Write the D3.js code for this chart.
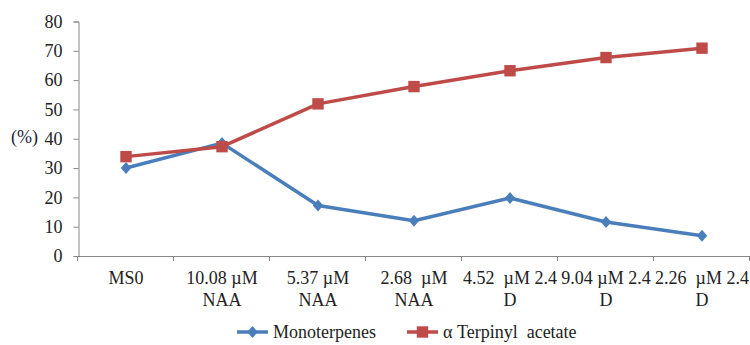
<!DOCTYPE html>
<html>
<head>
<meta charset="utf-8">
<script src="https://cdn.jsdelivr.net/npm/d3@7"></script>
<style>
  html, body { margin: 0; padding: 0; background: #fff; }
  svg { display: block; }
  svg text { font-family: "Liberation Serif", "Times New Roman", Tinos, "DejaVu Serif", serif; }
</style>
</head>
<body>
<svg id="chart" width="750" height="345"></svg>
<script>
// Treatments (two-line category labels)
const categories = [
  ["MS0", ""],
  ["10.08 µM", "NAA"],
  ["5.37 µM", "NAA"],
  ["2.68  µM", "NAA"],
  ["4.52  µM 2.4", "D"],
  ["9.04 µM 2.4", "D"],
  ["2.26  µM 2.4", "D"]
];
const monoterpenes = [30.0, 38.5, 17.2, 12.0, 19.8, 11.6, 6.9];
const terpinylAcetate = [33.9, 37.3, 51.9, 57.8, 63.2, 67.7, 70.9];
const yTicks = [0, 10, 20, 30, 40, 50, 60, 70, 80];
const seriesNames = ["Monoterpenes", "α Terpinyl  acetate"];

const blue = "#4a7ebb", red = "#be4b48", axisColor = "#868686";

const svg = d3.select("#chart");
const plotLeft = 78, plotRight = 750, plotTop = 21.5, plotBottom = 256;

const x = d3.scaleBand().domain(d3.range(categories.length)).range([plotLeft, plotRight]);
const y = d3.scaleLinear().domain([0, 80]).range([plotBottom, plotTop]);
const cx = i => x(i) + x.bandwidth() / 2;

// Y axis
const yAxis = svg.append("g").attr("transform", `translate(${plotLeft + 0.5},0)`)
  .call(d3.axisLeft(y).tickValues(yTicks).tickSize(5).tickPadding(11));
yAxis.attr("font-family", null).attr("font-size", null);
yAxis.select(".domain").attr("stroke", axisColor);
yAxis.selectAll(".tick line").attr("stroke", axisColor);
yAxis.selectAll(".tick text").style("font-size", "18px").attr("fill", "#222");

svg.append("text").attr("x", 11).attr("y", 143).style("font-size", "18px")
  .attr("fill", "#1e2437").text("(%)");

// X axis: tick marks at category boundaries
const xAxisG = svg.append("g");
xAxisG.append("line").attr("x1", plotLeft).attr("x2", plotRight)
  .attr("y1", plotBottom + 0.5).attr("y2", plotBottom + 0.5).attr("stroke", axisColor);
xAxisG.selectAll("line.tk").data(d3.range(categories.length + 1)).join("line")
  .attr("class", "tk")
  .attr("x1", i => Math.round(i < categories.length ? x(i) : plotRight) - 0.5)
  .attr("x2", i => Math.round(i < categories.length ? x(i) : plotRight) - 0.5)
  .attr("y1", plotBottom).attr("y2", plotBottom + 5).attr("stroke", axisColor);

const labels = svg.append("g").selectAll("text").data(categories).join("text")
  .attr("text-anchor", "middle").style("font-size", "18px").attr("fill", "#222")
  .attr("xml:space", "preserve").style("white-space", "pre");
labels.each(function(d, i) {
  const t = d3.select(this);
  t.append("tspan").attr("x", cx(i)).attr("y", 284).text(d[0]);
  if (d[1]) t.append("tspan").attr("x", cx(i)).attr("y", 305.5).text(d[1]);
});

// Lines and markers
const line = d3.line().x((d, i) => cx(i)).y(d => y(d));
const diamond = d3.symbol().type(d3.symbolDiamond2).size(70);
const square = d3.symbol().type(d3.symbolSquare).size(130);

svg.append("path").datum(monoterpenes).attr("d", line)
  .attr("fill", "none").attr("stroke", blue).attr("stroke-width", 3.5)
  .attr("stroke-linejoin", "round");
svg.append("g").selectAll("path").data(monoterpenes).join("path")
  .attr("d", diamond)
  .attr("transform", (d, i) => `translate(${cx(i)},${y(d)}) scale(1,1.15)`)
  .attr("fill", blue);

svg.append("path").datum(terpinylAcetate).attr("d", line)
  .attr("fill", "none").attr("stroke", red).attr("stroke-width", 3.5)
  .attr("stroke-linejoin", "round");
svg.append("g").selectAll("path").data(terpinylAcetate).join("path")
  .attr("d", square)
  .attr("transform", (d, i) => `translate(${cx(i)},${y(d)})`)
  .attr("fill", red);

// Legend
const legend = svg.append("g");
const legendItems = [
  { name: seriesNames[0], color: blue, sym: diamond, x0: 237, sc: "scale(1,1.15)" },
  { name: seriesNames[1], color: red, sym: square, x0: 407, sc: "" }
];
legendItems.forEach(it => {
  legend.append("line").attr("x1", it.x0).attr("x2", it.x0 + 31)
    .attr("y1", 332).attr("y2", 332).attr("stroke", it.color).attr("stroke-width", 3.5);
  legend.append("path").attr("d", it.sym)
    .attr("transform", `translate(${it.x0 + 15.5},332) ${it.sc}`).attr("fill", it.color);
  legend.append("text").attr("x", it.x0 + 36).attr("y", 338).style("font-size", "18px")
    .attr("fill", "#222").attr("xml:space", "preserve").style("white-space", "pre")
    .text(it.name);
});
</script>
</body>
</html>
